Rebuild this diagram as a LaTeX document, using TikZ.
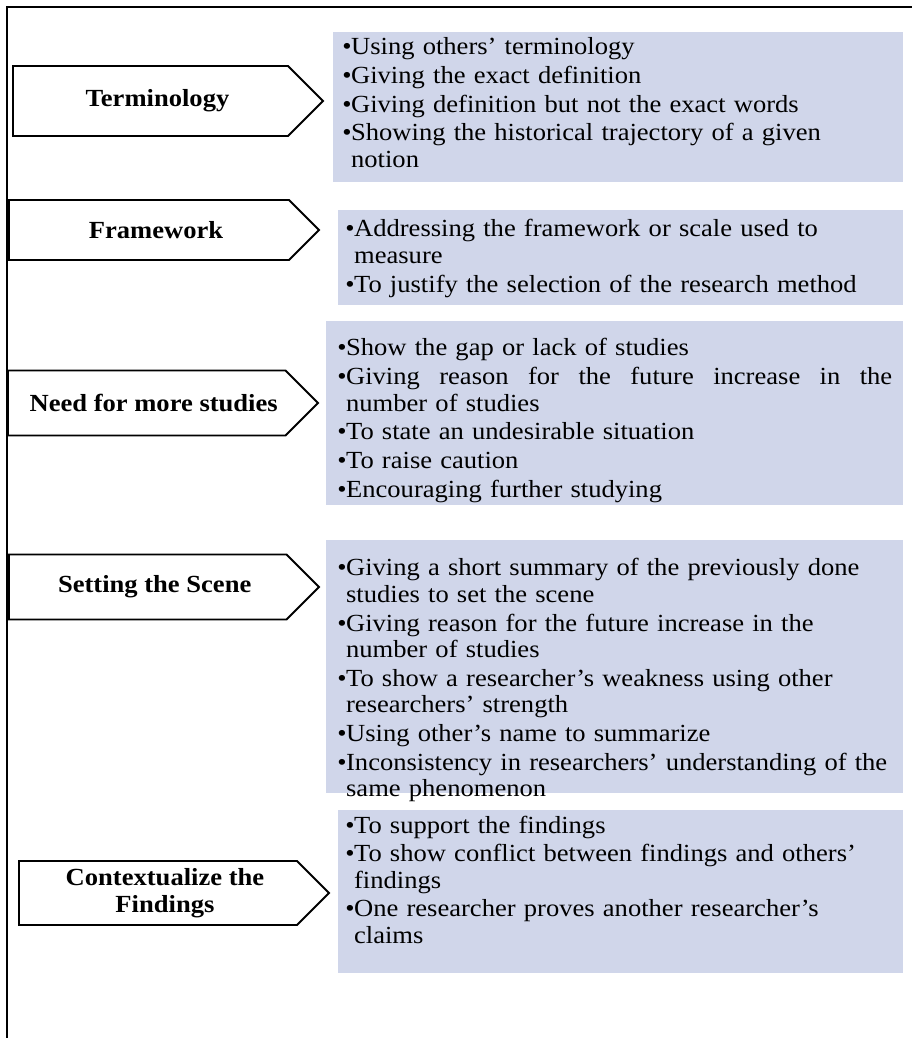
\documentclass[tikz,border=0pt]{standalone}
\usepackage{fontspec}
\setmainfont[FakeStretch=1.08]{Liberation Serif}
\usetikzlibrary{positioning, shapes.symbols}

\definecolor{listblue}{RGB}{208,214,234}
\newlength{\bwd}\setlength{\bwd}{5pt}
% one bullet point, later lines hang under the text
\newcommand{\bpt}[1]{\par\hangindent=\bwd\hangafter=1\noindent\makebox[\bwd][l]{\textbullet}#1}
% a line spread out to the full width
\newcommand{\spreadline}[1]{\hbox to \dimexpr\hsize-\bwd\relax{#1}}

\begin{document}
\begin{tikzpicture}[
    x=0.02cm, y=-0.02cm,
    font=\fontsize{14}{15.1}\selectfont,
    tag/.style={
        signal, signal to=east, signal pointer angle=90,
        draw=black, line width=1.1pt, fill=white,
        font=\fontsize{14}{15.1}\selectfont\bfseries,
        align=center, inner sep=0pt,
        minimum width=6.2cm, anchor=west
    },
    listbox/.style={fill=listblue, inner sep=0pt, anchor=north west},
    listtext/.style={
        anchor=north west, inner sep=0pt,
        text width=11.1cm, align=left,
        execute at begin node=\setlength{\parskip}{1.2pt}
    }
]
\useasboundingbox (0,0) rectangle (912,1038);

% frame
\draw[line width=1pt] (7,1038) -- (7,7) -- (912,7);

% Terminology
\node[tag, minimum height=1.4cm] (term) at (12,101) {\hspace*{8pt}Terminology};
\node[listbox, minimum width=11.4cm, minimum height=3cm] (termbox) at (333,32) {};
\node[listtext] (termlist) at (342,26) {
    \bpt{Using others' terminology}
    \bpt{Giving the exact definition}
    \bpt{Giving definition but not the exact words}
    \bpt{Showing the historical trajectory of a given\newline notion}\par
};

% Framework
\node[tag, minimum height=1.2cm] (frame) at (8,230) {\hspace*{8pt}Framework};
\node[listbox, minimum width=11.3cm, minimum height=1.9cm] (framebox) at (338,210) {};
\node[listtext] (framelist) at (345,208) {
    \bpt{Addressing the framework or scale used to\newline measure}
    \bpt{To justify the selection of the research method}\par
};

% Need for more studies
\node[tag, minimum height=1.3cm] (need) at (7,403) {\hspace*{8pt}Need for more studies};
\node[listbox, minimum width=11.54cm, minimum height=3.68cm] (needbox) at (326,321) {};
\node[listtext] (needlist) at (337,327) {
    \bpt{Show the gap or lack of studies}
    \bpt{\spreadline{Giving\hfill{} reason\hfill{} for\hfill{} the\hfill{} future\hfill{} increase\hfill{} in\hfill{} the}\newline number of studies}
    \bpt{To state an undesirable situation}
    \bpt{To raise caution}
    \bpt{Encouraging further studying}\par
};

% Setting the Scene
\node[tag, minimum height=1.3cm] (scene) at (8,587) {\hspace*{8pt}Setting the Scene};
\node[listbox, minimum width=11.54cm, minimum height=5.06cm] (scenebox) at (326,540) {};
\node[listtext] (scenelist) at (337,547) {
    \bpt{Giving a short summary of the previously done\newline studies to set the scene}
    \bpt{Giving reason for the future increase in the\newline number of studies}
    \bpt{To show a researcher's weakness using other\newline researchers' strength}
    \bpt{Using other's name to summarize}
    \bpt{Inconsistency in researchers' understanding of the\newline same phenomenon}\par
};

% Contextualize the Findings
\node[tag, minimum height=1.28cm] (context) at (18,893) {\hspace*{8pt}Contextualize the\\ \hspace*{8pt}Findings};
\node[listbox, minimum width=11.3cm, minimum height=3.26cm] (contextbox) at (338,810) {};
\node[listtext] (contextlist) at (345,804) {
    \bpt{To support the findings}
    \bpt{To show conflict between findings and others'\newline findings}
    \bpt{One researcher proves another researcher's\newline claims}\par
};

\end{tikzpicture}
\end{document}
